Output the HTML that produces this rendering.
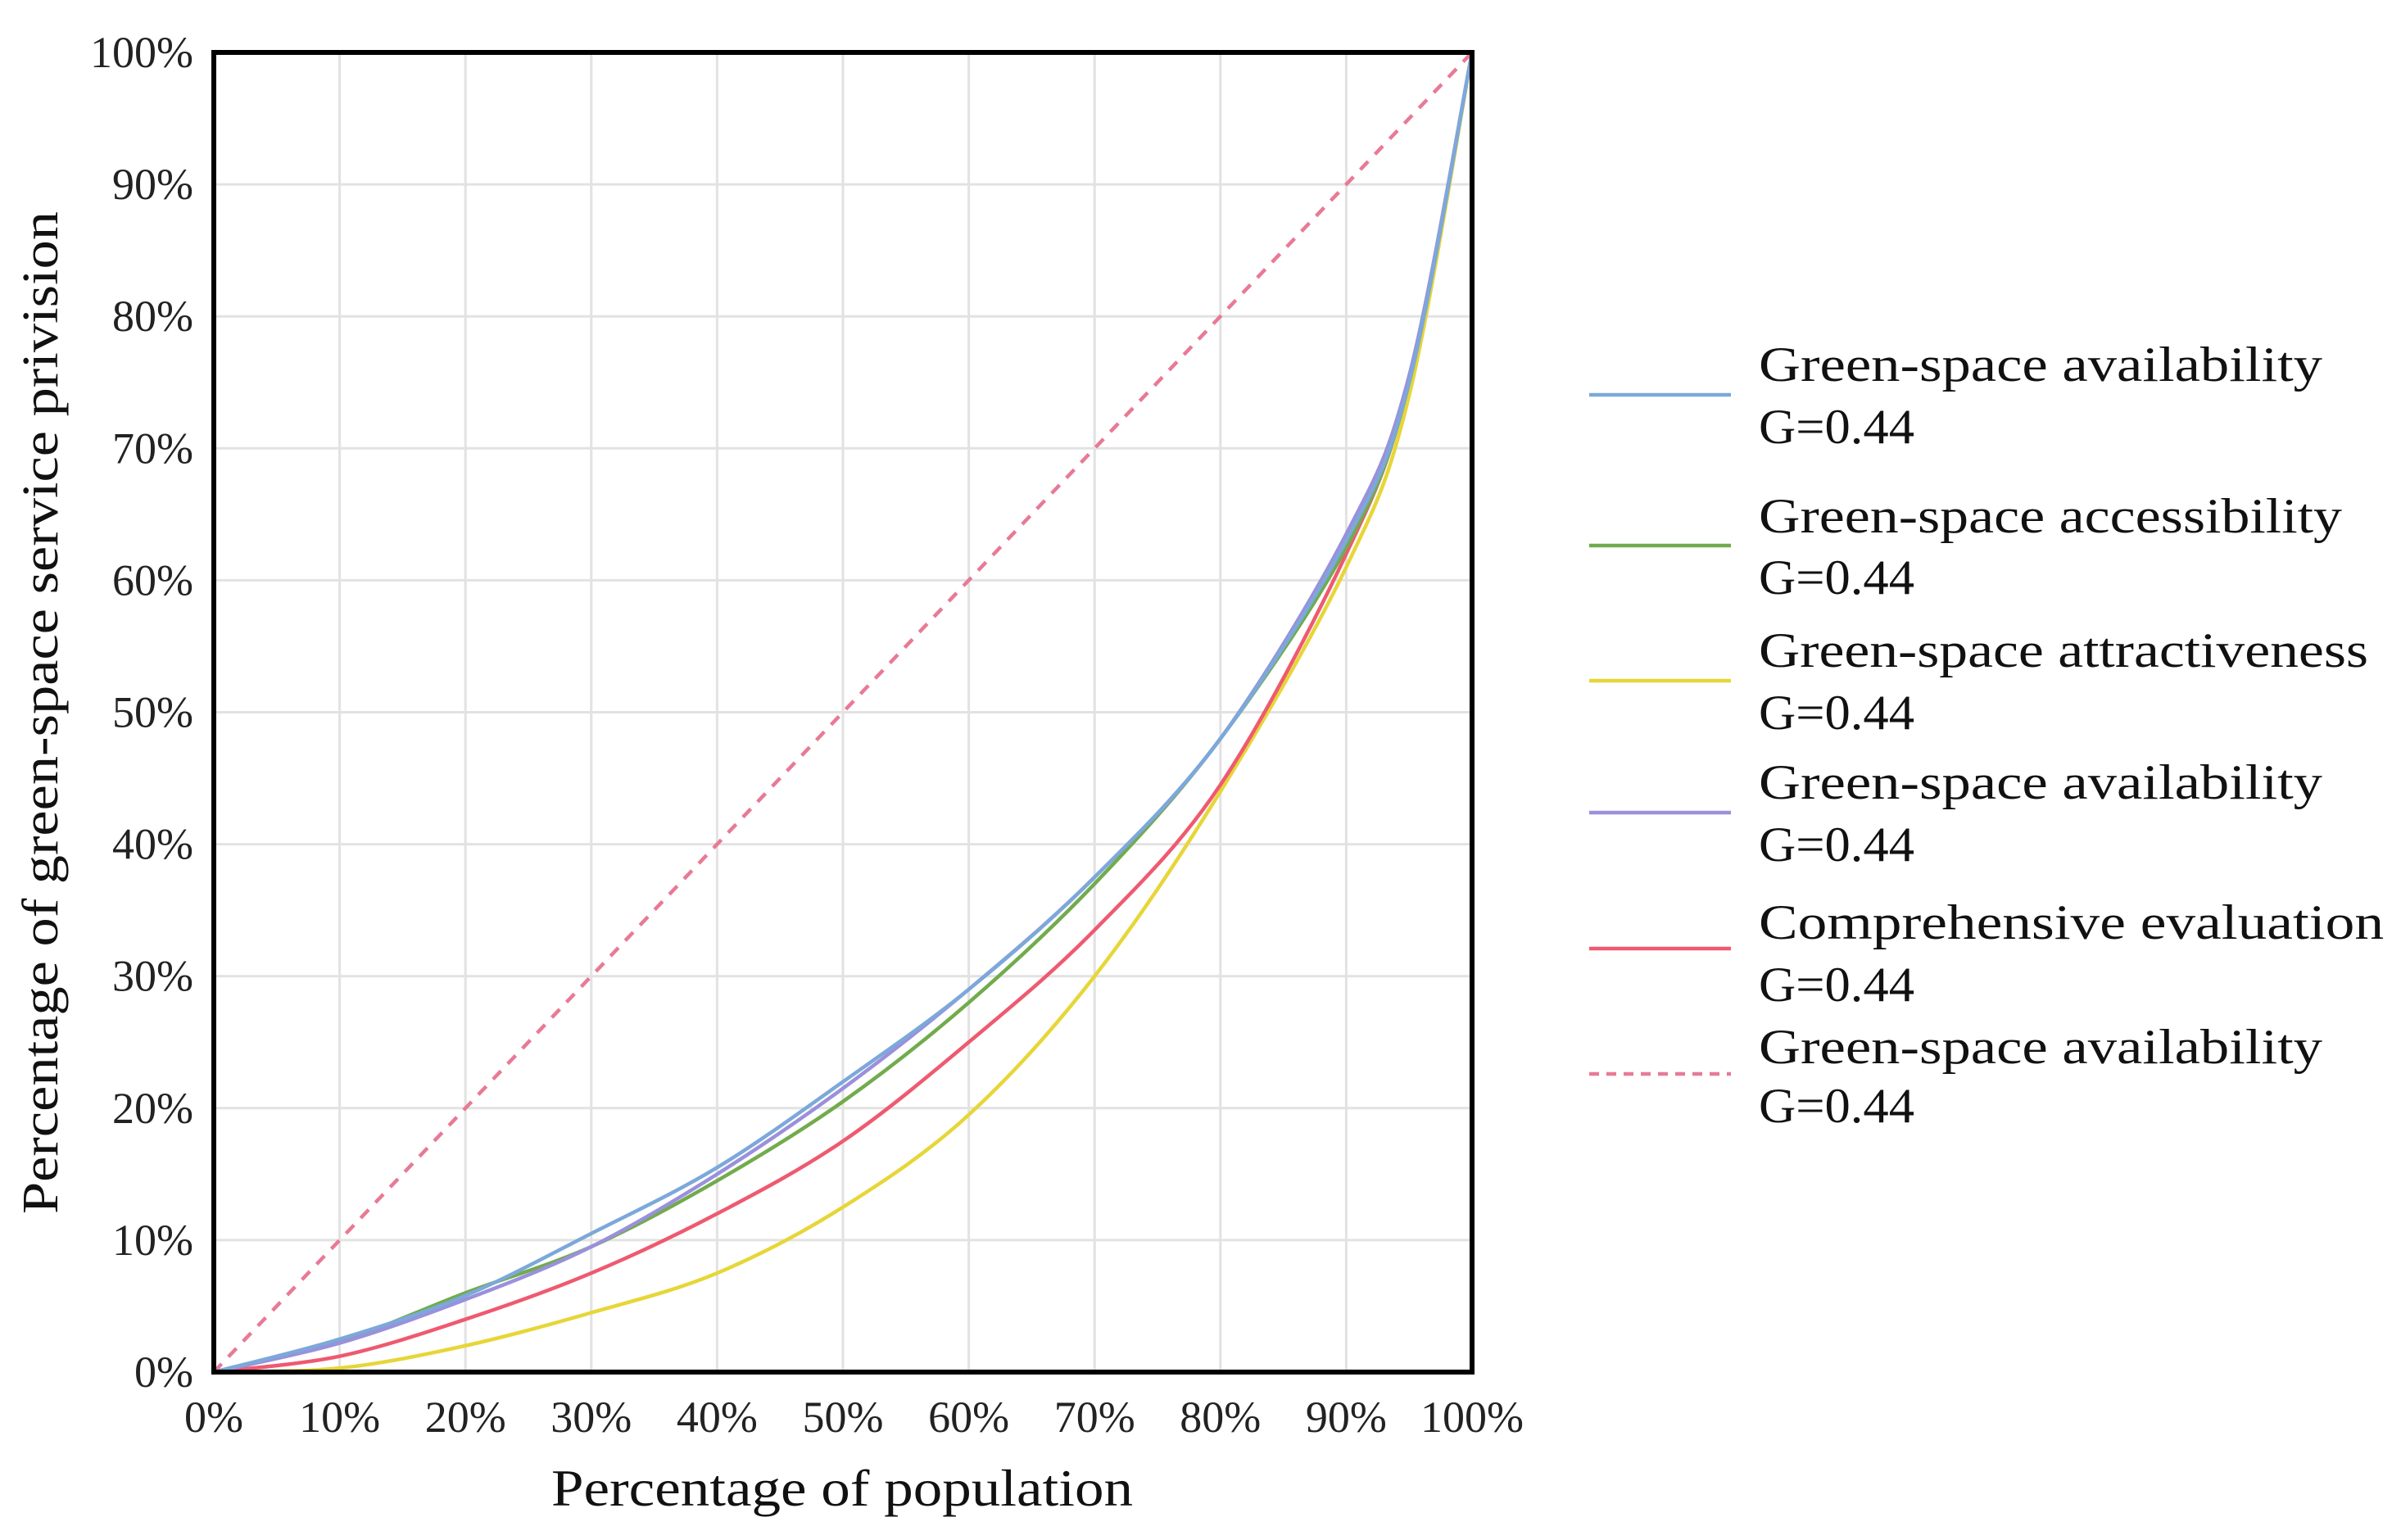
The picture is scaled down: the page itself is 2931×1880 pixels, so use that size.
<!DOCTYPE html>
<html><head><meta charset="utf-8"><style>html,body{margin:0;padding:0;background:#fff}svg{display:block}</style></head>
<body>
<svg id="chart" width="2931" height="1880" xmlns="http://www.w3.org/2000/svg" font-family="'Liberation Serif', serif">
<g id="grid"></g>
<g id="series"></g>
<rect x="261" y="64" width="1536" height="1611" fill="none" stroke="#000" stroke-width="6"/>
<g id="xticks" font-size="54" fill="#222" text-anchor="middle"></g>
<g id="yticks" font-size="54" fill="#222" text-anchor="end"></g>
<text x="1028" y="1838" font-size="64" text-anchor="middle" fill="#111" textLength="710" lengthAdjust="spacingAndGlyphs">Percentage of population</text>
<text transform="translate(70,870) rotate(-90)" font-size="62" text-anchor="middle" fill="#111" textLength="1224" lengthAdjust="spacingAndGlyphs">Percentage of green-space service privision</text>
<g id="legend" font-size="60" fill="#111"></g>
</svg>
<script>
const xTicks=[0,10,20,30,40,50,60,70,80,90,100];
const yTicks=[0,10,20,30,40,50,60,70,80,90,100];
const xs=[0,10,20,30,40,50,60,70,80,90,95,100];
const availability=[0,2.5,5.8,10.5,15.5,22,29,37.5,48,63,75,100];
const accessibility=[0,2.3,6,9.5,14.5,20.5,28,37,48,62.5,75,100];
const attractiveness=[0,0.3,2,4.5,7.5,12.5,19.5,30,44,61,74,100];
const availability2=[0,2.2,5.5,9.5,15,21.5,29,37.5,48,63.5,75.5,100];
const comprehensive=[0,1.2,4,7.5,12,17.5,25,33.5,44.5,62,75,100];
const equality=[0,100];
const equalityX=[0,100];
const seriesNames=["Green-space availability","Green-space accessibility","Green-space attractiveness","Green-space availability","Comprehensive evaluation","Green-space availability"];
const gLabels=["G=0.44","G=0.44","G=0.44","G=0.44","G=0.44","G=0.44"];

const L=261,R=1797,T=64,B=1675;
const sx=v=>L+(R-L)*v/100, sy=v=>B-(B-T)*v/100;
const NS="http://www.w3.org/2000/svg";
function mk(tag,attrs,parent){const e=document.createElementNS(NS,tag);for(const k in attrs)e.setAttribute(k,attrs[k]);parent.appendChild(e);return e;}
const grid=document.getElementById('grid');
xTicks.forEach(t=>{const l=mk('line',{x1:sx(t),x2:sx(t),y1:T,y2:B,stroke:'#e2e2e2','stroke-width':3},grid);

});
yTicks.forEach(t=>{const l=mk('line',{x1:L,x2:R,y1:sy(t),y2:sy(t),stroke:'#e2e2e2','stroke-width':3},grid);

});
const xt=document.getElementById('xticks');
xTicks.forEach(t=>{const e=mk('text',{x:sx(t),y:1748},xt);e.textContent=t+'%';

});
const yt=document.getElementById('yticks');
yTicks.forEach(t=>{const e=mk('text',{x:236,y:sy(t)+18},yt);e.textContent=t+'%';

});
function smooth(px,py){const p=px.map((x,i)=>[sx(x),sy(py[i])]);let d='M'+p[0][0]+','+p[0][1];
for(let i=0;i<p.length-1;i++){const p0=p[Math.max(0,i-1)],p1=p[i],p2=p[i+1],p3=p[Math.min(p.length-1,i+2)];
const c1=[p1[0]+(p2[0]-p0[0])/6,p1[1]+(p2[1]-p0[1])/6],c2=[p2[0]-(p3[0]-p1[0])/6,p2[1]-(p3[1]-p1[1])/6];
d+=` C${c1[0]},${c1[1]} ${c2[0]},${c2[1]} ${p2[0]},${p2[1]}`;}return d;}
const ser=document.getElementById('series');
const defs=[[xs,attractiveness,'#e6d638','',"attractiveness-line"],[xs,comprehensive,'#ee5a70','',"comprehensive-line"],[xs,accessibility,'#72ab4c','',"accessibility-line"],[xs,availability2,'#9a90dc','',"availability-line-2"],[xs,availability,'#7ca8da','',"availability-line"],[equalityX,equality,'#e87a96','14 12',"equality-line"]];
defs.forEach(s=>{const p=mk('path',{d:smooth(s[0],s[1]),fill:'none',stroke:s[2],'stroke-width':4.5,'stroke-dasharray':s[3]},ser);

});
const leg=document.getElementById('legend');
const legColors=['#7ca8da','#72ab4c','#e6d638','#9a90dc','#ee5a70','#e87a96'];
const lineY=[482,666,831,992,1158,1311];
const t1=[465,650,814,975,1146,1298];
const t2=[541,725,890,1051,1222,1370];
const widths=[688,712,744,688,763,688];
seriesNames.forEach((n,i)=>{
const l=mk('line',{x1:1940,x2:2113,y1:lineY[i],y2:lineY[i],stroke:legColors[i],'stroke-width':4.5,'stroke-dasharray':i==5?'12 9':''},leg);


const a=mk('text',{x:2147,y:t1[i],textLength:widths[i],lengthAdjust:'spacingAndGlyphs'},leg);a.textContent=n;


const b=mk('text',{x:2147,y:t2[i],textLength:190,lengthAdjust:'spacingAndGlyphs'},leg);b.textContent=gLabels[i];

});
</script>
</body></html>
